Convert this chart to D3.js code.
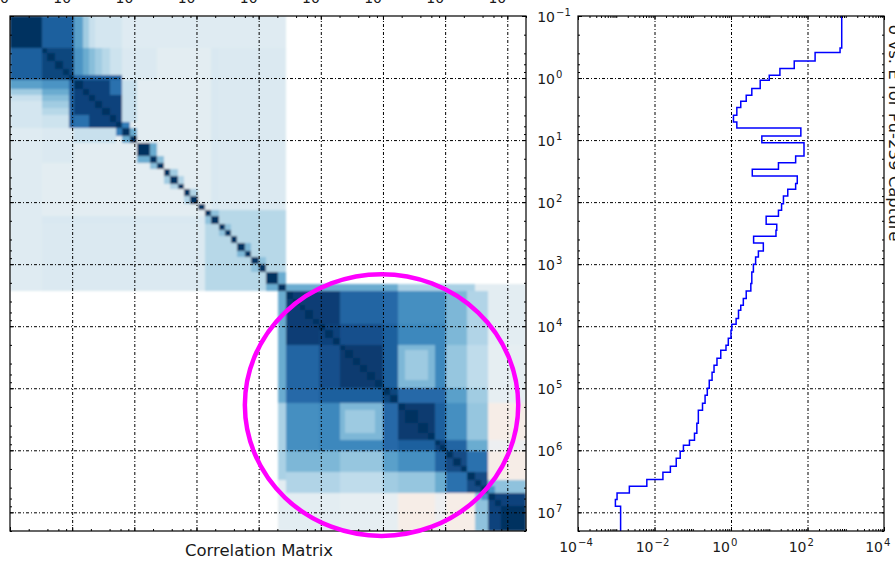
<!DOCTYPE html>
<html>
<head>
<meta charset="utf-8">
<script src="https://cdnjs.cloudflare.com/ajax/libs/d3/7.8.5/d3.min.js"></script>
<style>
body { margin: 0; background: #fff; }
text { font-family: "DejaVu Sans", sans-serif; fill: #1a1a1a; }
</style>
</head>
<body>
<script>
// group boundaries (eV), low to high
var energyBounds = [0.1, 0.328, 0.389, 0.531, 0.705, 0.903, 1.09, 1.48, 1.90, 2.37, 2.99, 3.99, 5.11, 6.39,
	8.59, 11.0, 18.1, 23.1, 29.6, 37.9, 50.3, 62.1, 79.6, 106, 135, 169, 228, 285, 356, 456, 614, 767, 1000,
	1337, 2056, 2708, 3591, 4603, 5544, 7547, 9312, 11640, 15670, 20320, 24450, 32890, 42660, 55330, 74460,
	1.0e5, 1.3e5, 1.75e5, 2.26e5, 3.66e5, 5.32e5, 6.88e5, 8.28e5, 1.035e6, 1.343e6, 1.807e6, 2.256e6,
	2.97e6, 3.81e6, 4.89e6, 6.24e6, 8.0e6, 2.0e7];

// group cross sections (barns)
var sigma = [785, 710, 158, 45, 19, 10, 5.8, 3.5, 2.5, 1.8, 1.42, 1.16, 1.42, 67, 6.4, 81, 49, 17.4, 3.6, 54,
	49, 30.5, 23.5, 21, 17.4, 8.3, 15.7, 15, 3.9, 7, 5.2, 4.4, 3.85, 3.5, 3.3, 2.5, 2.1, 1.8, 1.57, 1.36, 1.05,
	1.0, 0.85, 0.74, 0.54, 0.43, 0.36, 0.32, 0.27, 0.24, 0.21, 0.18, 0.14, 0.128, 0.111, 0.082, 0.057, 0.047,
	0.037, 0.026, 0.0166, 0.0063, 0.0022, 0.00105, 0.00095, 0.0013];

// correlation blocks: [row from, row to, col from, col to, r]  (applied in order, symmetric)
var corrBlocks = [
	[0,34,0,34,0.10], [0,24,25,34,0.15], [26,34,0,23,0.14], [24,34,24,34,0.28],
	[0,0,1,5,0.82], [0,0,6,6,0.55], [0,0,7,7,0.35], [0,0,8,8,0.22], [0,0,9,12,0.17], [0,0,13,34,0.12],
	[1,5,1,5,0.92],
	[6,6,1,5,0.6], [7,7,1,5,0.5], [8,8,1,5,0.42], [9,9,1,5,0.35], [10,10,1,5,0.28], [11,12,1,5,0.2], [13,16,1,5,0.14],
	[5,5,6,12,0.8], [6,12,6,12,0.93], [11,12,6,7,0.75],
	[13,14,6,11,0.22], [13,13,12,12,0.7], [14,14,13,13,0.5],
	[16,16,15,15,0.5], [17,17,16,16,0.42], [19,19,18,18,0.35], [20,20,19,19,0.3], [22,22,21,21,0.3],
	[25,25,24,24,0.4], [27,27,26,26,0.4], [30,30,29,29,0.45], [32,32,31,31,0.4], [34,34,33,33,0.5],
	[34,34,35,50,0.5], [34,34,51,60,0.32], [34,34,61,65,0.1],
	[35,65,35,65,0.35],
	[35,39,35,42,0.95], [35,39,43,48,0.8], [35,39,49,50,0.78], [35,39,51,56,0.62],
	[35,42,57,59,0.45], [35,42,60,62,0.3], [35,42,63,65,0.1],
	[40,42,40,42,0.93], [40,42,43,48,0.88], [40,42,49,50,0.82], [40,42,51,56,0.65],
	[43,48,43,48,0.96], [43,48,49,50,0.82], [43,48,51,54,0.45], [44,47,52,53,0.36], [43,48,55,56,0.65],
	[43,48,57,59,0.38], [43,48,60,62,0.25], [43,50,63,65,0.08],
	[49,50,49,50,0.92], [49,50,51,56,0.78], [49,50,57,59,0.55], [49,50,60,62,0.35],
	[51,54,51,54,0.96], [51,54,55,56,0.82], [51,54,57,59,0.62], [51,54,60,62,0.38], [51,54,63,65,-0.05],
	[55,56,55,56,0.93], [55,56,57,59,0.8], [55,56,60,62,0.5], [55,56,63,65,0.04],
	[57,62,57,62,0.75], [57,59,57,59,0.9], [60,62,60,62,0.9],
	[57,60,63,65,-0.05], [61,62,63,65,0.4], [62,62,63,63,0.6],
	[63,65,63,65,0.93]
];

var energyExps = [-1, 0, 1, 2, 3, 4, 5, 6, 7];
var sigmaExps = [-4, -2, 0, 2, 4];
var matrixTitle = "Correlation Matrix";
var sideTitle = "\u03c3 vs. E for Pu-239 Capture";
// highlighted region, energy bounds [x from, x to, y from, y to]
var highlight = [600, 1.5e7, 1450, 2.4e7];

var W = 895, H = 561;
var svg = d3.select('body').append('svg').attr('width', W).attr('height', H);

var eDom = [0.1, 2e7];
var L = {x0: 10, x1: 526, y0: 16, y1: 531};
var R = {x0: 578, x1: 884, y0: 16, y1: 531};
var mx = d3.scaleLog().domain(eDom).range([L.x0, L.x1]);
var my = d3.scaleLog().domain(eDom).range([L.y0, L.y1]);
var sx = d3.scaleLog().domain([1e-4, 1e4]).range([R.x0, R.x1]);
var sy = d3.scaleLog().domain(eDom).range([R.y0, R.y1]);

function minors(lo, hi, subs) {
	var out = [];
	for (var e = lo; e <= hi; e++) {
		subs.forEach(function(k) { out.push(k * Math.pow(10, e)); });
	}
	return out;
}
function inDom(scale, vals) {
	var d = scale.domain();
	return vals.filter(function(v) { return v >= d[0] * 0.999 && v <= d[1] * 1.001; });
}

var defs = svg.append('defs');
defs.append('filter').attr('id', 'soft').attr('x', 0).attr('y', 0).attr('width', 1).attr('height', 1)
	.append('feGaussianBlur').attr('stdDeviation', 1.1);
defs.append('clipPath').attr('id', 'clipL').append('rect')
	.attr('x', L.x0).attr('y', L.y0).attr('width', L.x1 - L.x0).attr('height', L.y1 - L.y0);
defs.append('clipPath').attr('id', 'clipR').append('rect')
	.attr('x', R.x0).attr('y', R.y0).attr('width', R.x1 - R.x0).attr('height', R.y1 - R.y0);

// ---- correlation matrix
var n = sigma.length;
var corr = [];
for (var i = 0; i < n; i++) { corr.push(new Array(n).fill(0)); }
corrBlocks.forEach(function(b) {
	for (var r = b[0]; r <= b[1]; r++) {
		for (var c = b[2]; c <= b[3]; c++) { corr[r][c] = b[4]; corr[c][r] = b[4]; }
	}
});
for (var i = 0; i < n; i++) corr[i][i] = 1;

var cells = [];
for (var r = 0; r < n; r++) {
	for (var c = 0; c < n; c++) {
		if (corr[r][c] !== 0) cells.push({r: r, c: c, v: corr[r][c]});
	}
}
var color = function(v) { return d3.interpolateRdBu((v + 1) / 2); };

var gm = svg.append('g');
gm.append('g').attr('clip-path', 'url(#clipL)')
	.append('g').attr('filter', 'url(#soft)')
	.selectAll('rect.cell').data(cells).enter().append('rect')
	.attr('class', 'cell')
	.attr('x', function(d) { return mx(energyBounds[d.c]); })
	.attr('y', function(d) { return my(energyBounds[d.r]); })
	.attr('width', function(d) { return mx(energyBounds[d.c + 1]) - mx(energyBounds[d.c]) + 0.3; })
	.attr('height', function(d) { return my(energyBounds[d.r + 1]) - my(energyBounds[d.r]) + 0.3; })
	.attr('fill', function(d) { return color(d.v); })
	.attr('shape-rendering', 'crispEdges');

function styleGrid(g) {
	g.select('.domain').remove();
	g.selectAll('line').attr('stroke', '#000').attr('stroke-width', 1).attr('stroke-dasharray', '3,2,1,2');
}
function styleTicks(g) {
	g.select('.domain').remove();
	g.selectAll('line').attr('stroke', '#000').attr('stroke-width', 1);
}

var decades = energyExps.map(function(e) { return Math.pow(10, e); });
var eMinor = inDom(my, minors(-1, 7, [2, 4, 6, 8]));

// grid on matrix
gm.append('g').attr('transform', 'translate(0,' + L.y1 + ')')
	.call(d3.axisBottom(mx).tickValues(decades.slice(1)).tickSize(-(L.y1 - L.y0)).tickFormat(''))
	.call(styleGrid);
gm.append('g').attr('transform', 'translate(' + L.x0 + ',0)')
	.call(d3.axisLeft(my).tickValues(decades.slice(1)).tickSize(-(L.x1 - L.x0)).tickFormat(''))
	.call(styleGrid);

function frameTicks(g, xs, ys, box, xMaj, xMin, yMaj, yMin) {
	[[d3.axisTop, box.y0], [d3.axisBottom, box.y1]].forEach(function(a) {
		g.append('g').attr('transform', 'translate(0,' + a[1] + ')')
			.call(a[0](xs).tickValues(xMaj).tickSize(-4).tickFormat('')).call(styleTicks);
		g.append('g').attr('transform', 'translate(0,' + a[1] + ')')
			.call(a[0](xs).tickValues(xMin).tickSize(-2).tickFormat('')).call(styleTicks);
	});
	[[d3.axisLeft, box.x0], [d3.axisRight, box.x1]].forEach(function(a) {
		g.append('g').attr('transform', 'translate(' + a[1] + ',0)')
			.call(a[0](ys).tickValues(yMaj).tickSize(-4).tickFormat('')).call(styleTicks);
		g.append('g').attr('transform', 'translate(' + a[1] + ',0)')
			.call(a[0](ys).tickValues(yMin).tickSize(-2).tickFormat('')).call(styleTicks);
	});
	g.append('rect').attr('x', box.x0).attr('y', box.y0)
		.attr('width', box.x1 - box.x0).attr('height', box.y1 - box.y0)
		.attr('fill', 'none').attr('stroke', '#000').attr('stroke-width', 1.2);
}
frameTicks(gm, mx, my, L, decades, eMinor, decades, eMinor);

function powLabel(g, x, y, exp, size) {
	g.append('text').attr('x', x - 1).attr('y', y).attr('text-anchor', 'end')
		.attr('font-size', size).text('10');
	g.append('text').attr('x', x).attr('y', y - 6).attr('font-size', size * 0.72)
		.text(exp < 0 ? '\u2212' + (-exp) : exp);
}

// top labels of the matrix (mostly cut by the page edge)
energyExps.forEach(function(e) { powLabel(gm, mx(Math.pow(10, e)), 3, e, 14); });

gm.append('text').attr('x', 259).attr('y', 556).attr('text-anchor', 'middle')
	.attr('font-size', 16.5).text(matrixTitle);

// highlight ellipse
gm.append('ellipse')
	.attr('cx', (mx(highlight[0]) + mx(highlight[1])) / 2)
	.attr('cy', (my(highlight[2]) + my(highlight[3])) / 2)
	.attr('rx', (mx(highlight[1]) - mx(highlight[0])) / 2)
	.attr('ry', (my(highlight[3]) - my(highlight[2])) / 2)
	.attr('fill', 'none').attr('stroke', '#ff00ff').attr('stroke-width', 4.5);

// ---- cross section step plot
var gs = svg.append('g');

var sMajor = sigmaExps.map(function(e) { return Math.pow(10, e); });
var sMinor = inDom(sx, minors(-4, 3, [1, 2, 3, 4, 5, 6, 7, 8, 9])).filter(function(v) {
	return sMajor.every(function(m) { return Math.abs(m - v) / m > 1e-6; });
});

gs.append('g').attr('transform', 'translate(0,' + R.y1 + ')')
	.call(d3.axisBottom(sx).tickValues(sMajor.slice(1, -1)).tickSize(-(R.y1 - R.y0)).tickFormat(''))
	.call(styleGrid);
gs.append('g').attr('transform', 'translate(' + R.x0 + ',0)')
	.call(d3.axisLeft(sy).tickValues(decades.slice(1)).tickSize(-(R.x1 - R.x0)).tickFormat(''))
	.call(styleGrid);

var steps = [];
sigma.forEach(function(s, i) {
	steps.push([s, energyBounds[i]]);
	steps.push([s, energyBounds[i + 1]]);
});
var line = d3.line().x(function(d) { return sx(d[0]); }).y(function(d) { return sy(d[1]); });
gs.append('path').attr('d', line(steps)).attr('clip-path', 'url(#clipR)')
	.attr('fill', 'none').attr('stroke', '#0000ff').attr('stroke-width', 1.5);

frameTicks(gs, sx, sy, R, sMajor, sMinor, decades, eMinor);

sigmaExps.forEach(function(e) { powLabel(gs, sx(Math.pow(10, e)), 552, e, 14); });
energyExps.forEach(function(e) {
	var y = sy(Math.pow(10, e)) + 6;
	gs.append('text').attr('x', 555).attr('y', y).attr('text-anchor', 'end').attr('font-size', 14).text('10');
	gs.append('text').attr('x', 556).attr('y', y - 6).attr('font-size', 10)
		.text(e < 0 ? '\u2212' + (-e) : e);
});

gs.append('text').attr('transform', 'translate(889,133) rotate(90)').attr('text-anchor', 'middle')
	.attr('font-size', 16.5).text(sideTitle);
</script>
</body>
</html>
